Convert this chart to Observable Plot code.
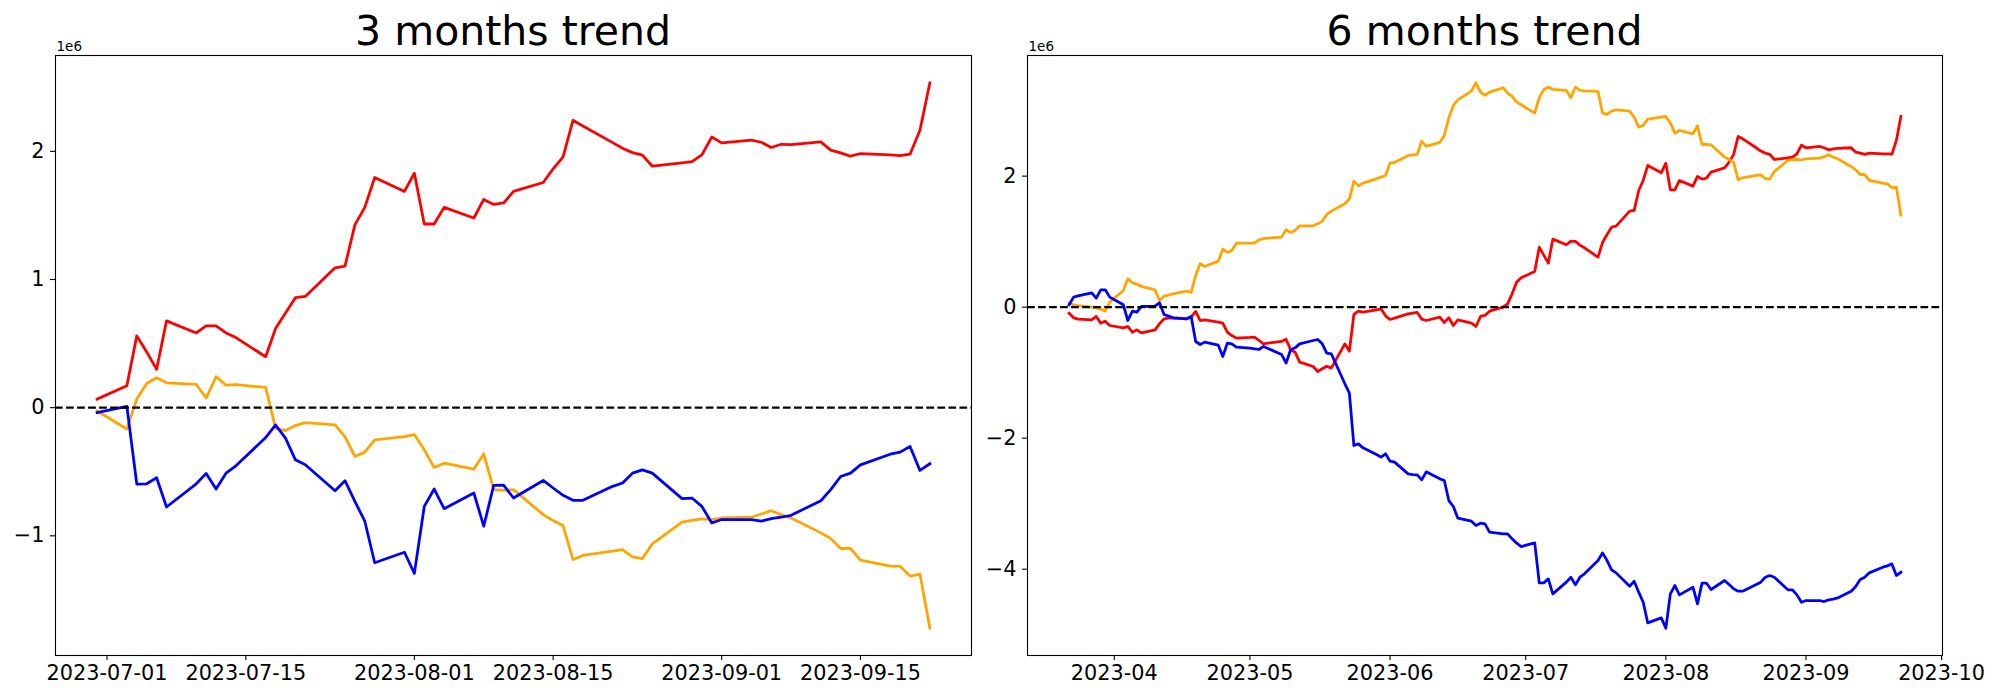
<!DOCTYPE html>
<html>
<head>
<meta charset="utf-8">
<script src="https://cdn.jsdelivr.net/npm/d3@7"></script>
<script src="https://cdn.jsdelivr.net/npm/@observablehq/plot@0.6"></script>
<style>
  html, body { margin: 0; padding: 0; background: #ffffff; }
  #fig { position: relative; width: 2000px; height: 700px; overflow: hidden; background: #ffffff;
         font-family: "DejaVu Sans", sans-serif; }
  .title { position: absolute; top: 11px; font-size: 41px; line-height: 41px; white-space: nowrap;
           transform: translateX(-50%); color: #000; z-index: 2; }
  .panel { position: absolute; top: 40px; z-index: 1; }
</style>
</head>
<body>
<div id="fig"></div>
<script>
// ---------------- data ----------------
const panelTitles = ["3 months trend", "6 months trend"];
const lineColors = ["#ff0000", "#ffa500", "#0000ff"]; // red, orange, blue
const offsetLabel = "1e6";
const unit = 1e6;

// trading-day ranges (weekdays)
const range3m = ["2023-06-30", "2023-09-22"];
const range6m = ["2023-03-22", "2023-09-22"];

// 3-month panel values (in millions), one per weekday
const red3m = [
  0.067, 0.171, 0.56, 0.435, 0.30, 0.677,
  0.583, 0.638, 0.638, 0.583, 0.547,
  0.397, 0.617, 0.739, 0.858, 0.868,
  1.091, 1.104, 1.426, 1.563, 1.796,
  1.687, 1.83, 1.433, 1.433, 1.563,
  1.48, 1.625, 1.586, 1.597, 1.687,
  1.757, 1.864, 1.957, 2.242, 2.198,
  2.068, 2.024, 1.99, 1.97, 1.884,
  1.91, 1.92, 1.972, 2.112, 2.066,
  2.087, 2.071, 2.03, 2.055, 2.053,
  2.074, 2.009, 1.988, 1.962, 1.983,
  1.972, 1.967, 1.978, 2.164, 2.535
];
const orange3m = [
  -0.026, -0.166, 0.067, 0.189, 0.233, 0.194,
  0.181, 0.075, 0.241, 0.176, 0.179,
  0.158, -0.161, -0.179, -0.14, -0.117,
  -0.135, -0.226, -0.381, -0.347, -0.251,
  -0.226, -0.21, -0.329, -0.467, -0.433,
  -0.48, -0.36, -0.64, -0.645, -0.64,
  -0.835, -0.88, -0.92, -1.185, -1.153,
  -1.12, -1.107, -1.164, -1.177, -1.063,
  -0.894, -0.879, -0.868, -0.874, -0.861,
  -0.855, -0.83, -0.804, -0.835, -0.861,
  -0.977, -1.021, -1.099, -1.099, -1.19,
  -1.236, -1.238, -1.314, -1.298, -1.721
];
const blue3m = [
  -0.039, 0.01, -0.596, -0.594, -0.547, -0.775,
  -0.594, -0.513, -0.635, -0.511, -0.454,
  -0.233, -0.135, -0.238, -0.407, -0.446,
  -0.648, -0.57, -0.731, -0.886, -1.21,
  -1.128, -1.293, -0.77, -0.635, -0.788,
  -0.666, -0.925, -0.607, -0.604, -0.705,
  -0.568, -0.627, -0.684, -0.723, -0.723,
  -0.614, -0.588, -0.511, -0.485, -0.511,
  -0.71, -0.705, -0.77, -0.9, -0.873,
  -0.873, -0.886, -0.866, -0.855, -0.84,
  -0.726, -0.64, -0.537, -0.511, -0.446,
  -0.363, -0.347, -0.303, -0.49, -0.438
];

// 6-month panel values (in millions), one per weekday
const red6m = [
  -0.092, -0.163, -0.183, -0.193, -0.142, -0.244, -0.214, -0.28,
  -0.316, -0.295, -0.382, -0.346, -0.392,
  -0.346, -0.254, -0.178, -0.168, -0.163,
  -0.178, -0.153, -0.066, -0.204, -0.193,
  -0.229, -0.244, -0.382, -0.433, -0.473,
  -0.463, -0.458, -0.509, -0.56, -0.55,
  -0.524, -0.489, -0.651, -0.687, -0.84,
  -0.906, -0.982, -0.941, -0.901, -0.931,
  -0.56, -0.672, -0.112, -0.061, -0.076,
  -0.041, -0.025, -0.132, -0.188, -0.168,
  -0.102, -0.092, -0.081, -0.183, -0.204,
  -0.153, -0.234, -0.163, -0.28, -0.193,
  -0.244, -0.295, -0.142, -0.127, -0.061,
  0.0, 0.051, 0.204, 0.382, 0.448,
  0.545, 0.916, 0.794, 0.672, 1.038,
  0.952, 1.008, 1.003, 0.947, 0.906,
  0.763, 0.987, 1.109, 1.221, 1.237,
  1.466, 1.476, 1.781, 1.934, 2.163,
  2.051, 2.198, 1.791, 1.791, 1.934,
  1.847, 1.995, 1.954, 1.969, 2.061,
  2.127, 2.214, 2.331, 2.606, 2.57,
  2.433, 2.382, 2.351, 2.331, 2.254,
  2.28, 2.29, 2.341, 2.473, 2.433,
  2.453, 2.433, 2.402, 2.417, 2.422,
  2.433, 2.366, 2.351, 2.331, 2.351,
  2.341, 2.341, 2.336, 2.545, 2.911
];
const orange6m = [
  0.061, 0.036, 0.025, 0.0, -0.015, -0.03, -0.061, 0.076,
  0.254, 0.433, 0.372, 0.351, 0.316,
  0.265, 0.102, 0.168, 0.183, 0.204,
  0.244, 0.224, 0.483, 0.662, 0.621,
  0.702, 0.886, 0.835, 0.865, 0.977,
  0.977, 0.977, 1.028, 1.048, 1.053,
  1.069, 1.181, 1.14, 1.17, 1.242,
  1.242, 1.272, 1.313, 1.415, 1.466,
  1.578, 1.654, 1.924, 1.852, 1.893,
  1.959, 1.985, 2.01, 2.198, 2.209,
  2.316, 2.326, 2.331, 2.534, 2.453,
  2.514, 2.621, 2.891, 3.079, 3.165,
  3.298, 3.425, 3.282, 3.232, 3.282,
  3.349, 3.267, 3.216, 3.13, 3.089,
  2.962, 3.196, 3.318, 3.359, 3.323,
  3.308, 3.196, 3.359, 3.308, 3.303,
  3.293, 2.962, 2.942, 2.992, 3.013,
  2.992, 2.901, 2.748, 2.774, 2.87,
  2.901, 2.911, 2.809, 2.656, 2.697,
  2.646, 2.768, 2.483, 2.483, 2.478,
  2.29, 2.254, 2.209, 1.944, 1.975,
  2.01, 2.02, 1.964, 1.954, 2.071,
  2.239, 2.254, 2.254, 2.249, 2.265,
  2.275, 2.295, 2.326, 2.29, 2.265,
  2.148, 2.097, 2.025, 2.025, 1.934,
  1.893, 1.883, 1.822, 1.832, 1.405
];
const blue6m = [
  0.036, 0.153, 0.173, 0.219, 0.137, 0.265, 0.265, 0.153,
  0.036, -0.204, -0.061, -0.076, 0.01,
  0.015, 0.066, -0.112, -0.137, -0.163,
  -0.178, -0.142, -0.524, -0.57, -0.534,
  -0.58, -0.753, -0.55, -0.56, -0.611,
  -0.626, -0.636, -0.646, -0.6, -0.631,
  -0.722, -0.855, -0.651, -0.621, -0.56,
  -0.509, -0.494, -0.56, -0.702, -0.712,
  -1.17, -1.313, -2.112, -2.087, -2.148,
  -2.249, -2.29, -2.239, -2.351, -2.366,
  -2.545, -2.555, -2.56, -2.636, -2.514,
  -2.621, -2.646, -2.952, -3.043, -3.221,
  -3.267, -3.333, -3.298, -3.308, -3.435,
  -3.461, -3.461, -3.537, -3.603, -3.654,
  -3.598, -4.209, -4.209, -4.148, -4.377,
  -4.198, -4.122, -4.239, -4.122, -4.071,
  -3.868, -3.751, -3.868, -4.01, -4.056,
  -4.26, -4.183, -4.351, -4.504, -4.819,
  -4.743, -4.901, -4.377, -4.249, -4.392,
  -4.275, -4.529, -4.214, -4.214, -4.31,
  -4.173, -4.234, -4.3, -4.336, -4.336,
  -4.234, -4.198, -4.122, -4.097, -4.122,
  -4.315, -4.315, -4.392, -4.504, -4.478,
  -4.478, -4.494, -4.468, -4.458, -4.438,
  -4.336, -4.265, -4.158, -4.122, -4.056,
  -3.969, -3.949, -3.919, -4.097, -4.046
];

// tick labels
const xTicks3m = ["2023-07-01", "2023-07-15", "2023-08-01", "2023-08-15", "2023-09-01", "2023-09-15"];
const xTicks6m = ["2023-04-01", "2023-05-01", "2023-06-01", "2023-07-01", "2023-08-01", "2023-09-01", "2023-10-01"];
const yTicks3m = [-1, 0, 1, 2];
const yTicks6m = [-4, -2, 0, 2];

// ---------------- drawing ----------------
function weekdays([a, b]) {
  return d3.utcDay.range(new Date(a), d3.utcDay.offset(new Date(b), 1))
    .filter(d => d.getUTCDay() !== 0 && d.getUTCDay() !== 6);
}

function makePanel({range, series, xTicks, xFormat, yTicks, width, marginLeft, marginRight}) {
  const dates = weekdays(range);
  series.forEach((s, i) => { if (s.length !== dates.length) console.error("length mismatch", i, s.length, dates.length); });
  const rows = series.map(vals => vals.map((v, j) => ({date: dates[j], value: v * unit})));
  const [x0, x1] = d3.extent(dates);
  const px = (x1 - x0) * 0.05;
  const all = series.flat().map(v => v * unit);
  const [y0, y1] = d3.extent(all);
  const py = (y1 - y0) * 0.05;
  return Plot.plot({
    width, height: 660,
    marginTop: 15, marginBottom: 45, marginLeft, marginRight,
    style: {fontFamily: "DejaVu Sans, sans-serif", fontSize: "20.8px", color: "#000", background: "transparent", overflow: "visible"},
    x: {type: "utc", domain: [new Date(+x0 - px), new Date(+x1 + px)]},
    y: {domain: [y0 - py, y1 + py]},
    marks: [
      ...rows.map((r, i) => Plot.line(r, {x: "date", y: "value", stroke: lineColors[i], strokeWidth: 2.78, strokeLinejoin: "round", strokeLinecap: "square"})),
      Plot.ruleY([0], {stroke: "#000", strokeWidth: 2.08, strokeDasharray: "7.7,3.33"}),
      Plot.frame({stroke: "#000", strokeWidth: 1.1}),
      Plot.axisX({ticks: xTicks.map(d => new Date(d)), tickFormat: xFormat, tickSize: 5, tickPadding: 5,
                  strokeWidth: 1.1, label: null, fontSize: 20.8}),
      Plot.axisY({ticks: yTicks.map(v => v * unit), tickFormat: v => d3.format("d")(v / unit), tickSize: 5, tickPadding: 6,
                  strokeWidth: 1.1, label: null, fontSize: 20.8}),
      Plot.text([offsetLabel], {frameAnchor: "top-left", textAnchor: "start", lineAnchor: "middle", dx: 1, dy: -8.6, fontSize: 13.5})
    ]
  });
}

const fig = document.getElementById("fig");

const panels = [
  {left: 0, center: 513, title: panelTitles[0],
   opts: {range: range3m, series: [red3m, orange3m, blue3m], xTicks: xTicks3m, xFormat: d3.utcFormat("%Y-%m-%d"),
          yTicks: yTicks3m, width: 1000, marginLeft: 55, marginRight: 29}},
  {left: 1000, center: 1484.5, title: panelTitles[1],
   opts: {range: range6m, series: [red6m, orange6m, blue6m], xTicks: xTicks6m, xFormat: d3.utcFormat("%Y-%m"),
          yTicks: yTicks6m, width: 1000, marginLeft: 27, marginRight: 58}}
];

for (const p of panels) {
  const holder = document.createElement("div");
  holder.className = "panel";
  holder.style.left = p.left + "px";
  holder.appendChild(makePanel(p.opts));
  fig.appendChild(holder);
}
for (const p of panels) {
  const t = document.createElement("div");
  t.className = "title";
  t.style.left = p.center + "px";
  t.textContent = p.title;
  fig.appendChild(t);
}
</script>
</body>
</html>
